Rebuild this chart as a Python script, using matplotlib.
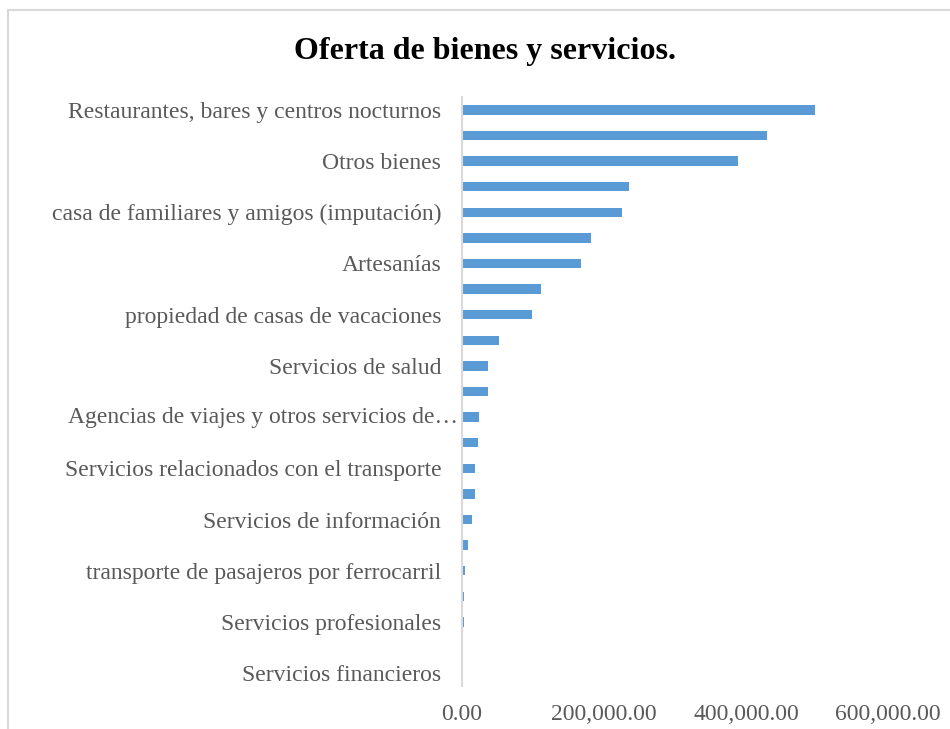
import matplotlib
matplotlib.use("Agg")
import matplotlib.pyplot as plt
from matplotlib.patches import Rectangle
from matplotlib.ticker import FuncFormatter

# categorias (de mayor a menor), solo una de cada dos lleva etiqueta visible
categorias = [
    "Restaurantes, bares y centros nocturnos",
    "Alojamiento para visitantes",
    "Otros bienes",
    "Transporte aéreo de pasajeros",
    "casa de familiares y amigos (imputación)",
    "Transporte de pasajeros por carretera",
    "Artesanías",
    "Servicios culturales y recreativos",
    "propiedad de casas de vacaciones",
    "Alquiler de vehículos",
    "Servicios de salud",
    "Servicios deportivos",
    "Agencias de viajes y otros servicios de…",
    "Servicios de educación",
    "Servicios relacionados con el transporte",
    "Transporte acuático de pasajeros",
    "Servicios de información",
    "Servicios de comunicaciones",
    "transporte de pasajeros por ferrocarril",
    "Servicios de seguros",
    "Servicios profesionales",
    "Servicios inmobiliarios",
    "Servicios financieros",
]
valores = [497000, 430000, 389000, 235000, 225000, 182000, 168000, 111000,
           98500, 52000, 37000, 36000, 24000, 22000, 18000, 17800,
           14000, 8800, 3800, 2800, 2400, 2000, 600]
xticks = [0, 200000, 400000, 600000]

gris = "#595959"
fig = plt.figure(figsize=(9.5, 7.29), dpi=100)
fig.patches.append(Rectangle((8 / 950, -0.05), 1.0, 1 - 10 / 729 + 0.05,
                             transform=fig.transFigure, fill=False,
                             edgecolor="#D9D9D9", linewidth=1.5))

ax = fig.add_axes([462 / 950, 1 - 686 / 729, 426 / 950, 589 / 729])
pos = list(range(len(categorias)))
ax.barh(pos, valores, height=0.37, color="#5B9BD5")
ax.set_ylim(len(categorias) - 0.5, -0.5)
ax.set_xlim(0, 600000)

# etiquetas visibles (la truncada se dibuja aparte, mas pegada al eje)
etiquetas = [c if not c.endswith("…") else "" for c in categorias[::2]]
ax.set_yticks(pos[::2])
ax.set_yticklabels(etiquetas, fontsize=17, family="Liberation Serif", color=gris)
for i, c in enumerate(categorias):
    if c.endswith("…"):
        ax.annotate(c, xy=(0, i), xycoords=ax.get_yaxis_transform(),
                    xytext=(-3, 0), textcoords="offset points",
                    ha="right", va="center", fontsize=17,
                    family="Liberation Serif", color=gris)

ax.set_xticks(xticks)
ax.xaxis.set_major_formatter(FuncFormatter(lambda v, p: f"{v:,.2f}"))
for t in ax.get_xticklabels():
    t.set_fontsize(17)
    t.set_family("Liberation Serif")
    t.set_color(gris)
ax.tick_params(axis="y", length=0, pad=15)
ax.tick_params(axis="x", length=0, pad=13)

for s in ["top", "right", "bottom"]:
    ax.spines[s].set_visible(False)
ax.spines["left"].set_color("#D9D9D9")
ax.spines["left"].set_linewidth(1.5)

fig.text(485 / 950, 1 - 52 / 729, "Oferta de bienes y servicios.",
         ha="center", va="center", fontsize=23, fontweight="bold",
         family="Liberation Serif", color="black")

fig.savefig("out.png", dpi=100)
